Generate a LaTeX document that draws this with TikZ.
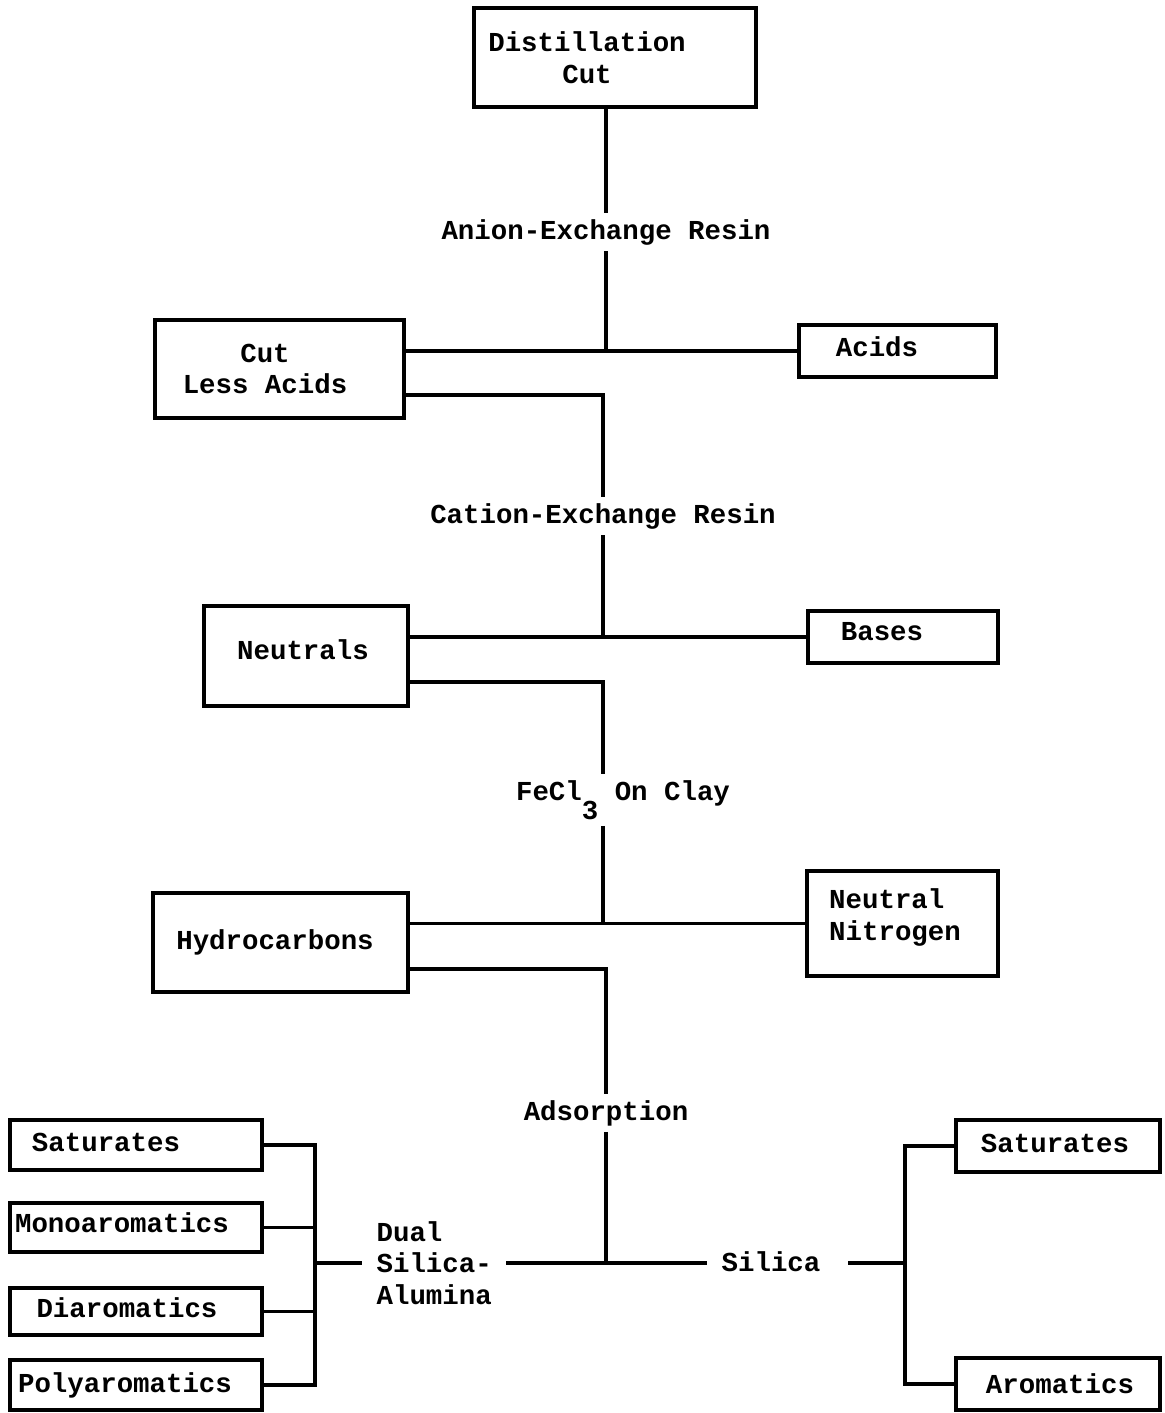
\documentclass[tikz,border=0pt]{standalone}
\usepackage{fontspec}
\setmonofont{Liberation Mono}
\usepackage{tikz}
\usetikzlibrary{calc}

\tikzset{
  box/.style={draw, rectangle, line width=1.9pt, inner sep=0pt},
  lbl/.style={font=\ttfamily\bfseries\fontsize{15.6}{18}\selectfont, align=center},
  flow/.style={line width=2pt}
}

\begin{document}
\begin{tikzpicture}[x=0.02cm, y=-0.02cm]
	\useasboundingbox (0,0) rectangle (1165,1413);

	% boxes of the main line
	\node[box, minimum width=5.64cm, minimum height=1.98cm,
		label={[lbl, xshift=-0.56cm]center:Distillation\\Cut}] (dist) at (615,57.5) {};
	\node[box, minimum width=4.98cm, minimum height=1.96cm,
		label={[lbl, xshift=-0.29cm]center:Cut\\Less Acids}] (cla) at (279.5,369) {};
	\node[box, minimum width=3.94cm, minimum height=1.04cm,
		label={[lbl, xshift=-0.41cm, yshift=0.08cm]center:Acids}] (acids) at (897.5,351) {};
	\node[box, minimum width=4.08cm, minimum height=2cm,
		label={[lbl, xshift=-0.06cm, yshift=0.12cm]center:Neutrals}] (neut) at (306,656) {};
	\node[box, minimum width=3.8cm, minimum height=1.04cm,
		label={[lbl, xshift=-0.42cm, yshift=0.1cm]center:Bases}] (bases) at (903,637) {};
	\node[box, minimum width=5.1cm, minimum height=1.98cm,
		label={[lbl, xshift=-0.11cm]center:Hydrocarbons}] (hydro) at (280.5,942.5) {};
	\node[box, minimum width=3.82cm, minimum height=2.1cm,
		label={[lbl, align=left, xshift=-0.15cm, yshift=0.12cm]center:Neutral\\Nitrogen}] (nn) at (902.5,923.5) {};

	% fractions
	\node[box, minimum width=5.04cm, minimum height=1cm,
		label={[lbl, xshift=-0.6cm, yshift=0.06cm]center:Saturates}] (lsat) at (136,1145) {};
	\node[box, minimum width=5.04cm, minimum height=0.98cm,
		label={[lbl, xshift=-0.28cm, yshift=0.1cm]center:Monoaromatics}] (lmono) at (136,1227.5) {};
	\node[box, minimum width=5.04cm, minimum height=0.94cm,
		label={[lbl, xshift=-0.18cm, yshift=0.07cm]center:Diaromatics}] (ldi) at (136,1311.5) {};
	\node[box, minimum width=5.04cm, minimum height=1cm,
		label={[lbl, xshift=-0.22cm]center:Polyaromatics}] (lpoly) at (136,1385) {};
	\node[box, minimum width=4.08cm, minimum height=1.04cm,
		label={[lbl, xshift=-0.06cm, yshift=0.06cm]center:Saturates}] (rsat) at (1058,1146) {};
	\node[box, minimum width=4.08cm, minimum height=1.04cm,
		label={[lbl, xshift=0.04cm]center:Aromatics}] (rarom) at (1058,1384) {};

	% separation steps
	\node[lbl] (anion) at (606,232) {Anion-Exchange Resin};
	\node[lbl] (cation) at (603,516) {Cation-Exchange Resin};
	\node[lbl] (fecl) at (623,800) {FeCl\raisebox{-0.7em}{3} On Clay};
	\node[lbl] (adsorb) at (606,1113) {Adsorption};
	\node[lbl, outer xsep=5pt] (silica) at (771,1262) {Silica};
	\node[lbl, align=left, anchor=west, outer xsep=5pt] (dual) at (362,1263) {Dual\\Silica-\\Alumina};

	\coordinate (lbar) at (315,1263);
	\coordinate (rbar) at (905,1263);

	% connectors
	\draw[flow] (dist.south -| anion) -- (anion.north);
	\draw[flow] (anion.south) -- (anion |- acids.west);
	\draw[flow] (cla.east |- acids.west) -- (acids.west);
	\draw[flow] ([yshift=-0.52cm]cla.east) -| (cation.north);
	\draw[flow] (cation.south) -- (cation |- bases.west);
	\draw[flow] (neut.east |- bases.west) -- (bases.west);
	\draw[flow] ([yshift=-0.52cm]neut.east) -| (cation |- fecl.north);
	\draw[flow] (cation |- fecl.south) -- (cation |- nn.west);
	\draw[flow] (hydro.east |- nn.west) -- (nn.west);
	\draw[flow] ([yshift=-0.53cm]hydro.east) -| (adsorb.north);
	\draw[flow] (adsorb.south) -- (adsorb |- dual.east);
	\draw[flow] (dual.east) -- (dual.east -| silica.west);

	\draw[flow] (lbar) -- (dual.west);
	\draw[flow] (lsat.east) -| (lbar) |- (lpoly.east);
	\foreach \b in {lmono, ldi}
		\draw[flow] (\b.east) -- (\b.east -| lbar);
	\draw[flow] (rbar) -- ([xshift=0.26cm]silica.east |- rbar);
	\draw[flow] (rsat.west) -| (rbar) |- (rarom.west);
\end{tikzpicture}
\end{document}
